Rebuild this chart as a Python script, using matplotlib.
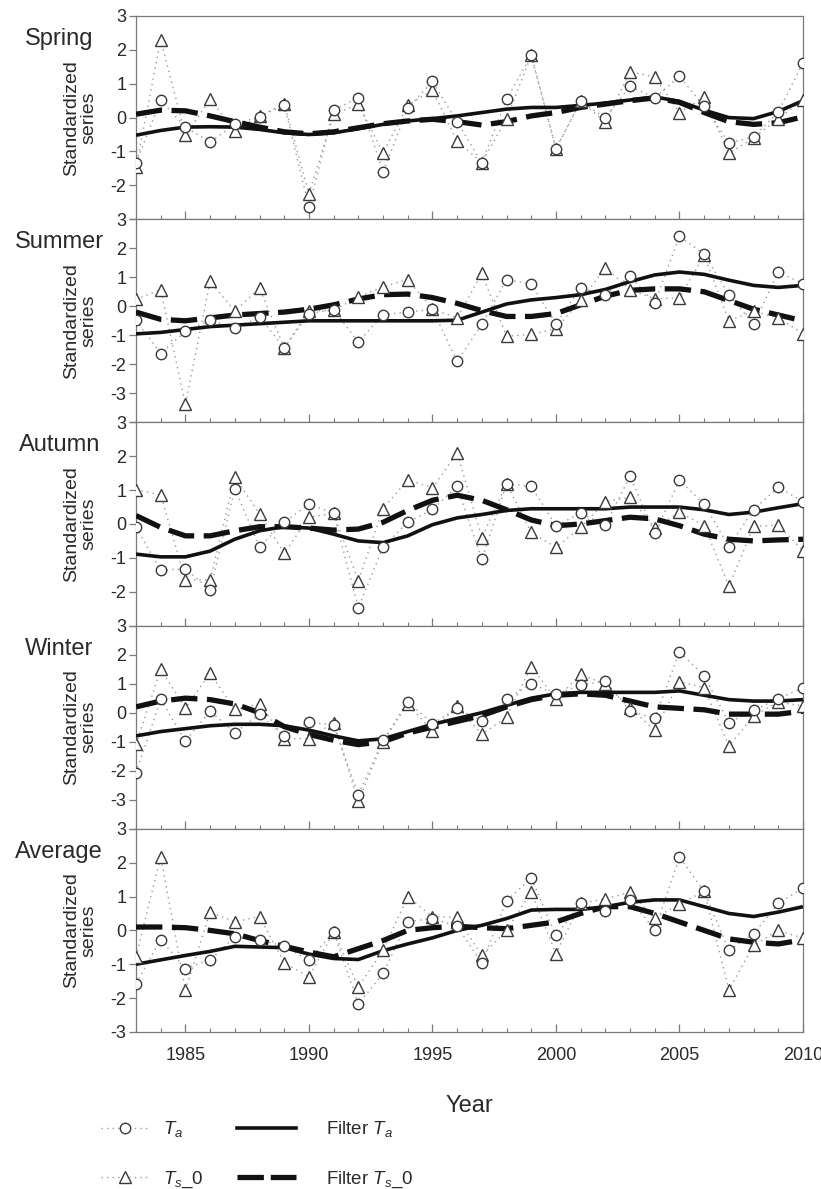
import matplotlib
matplotlib.use('Agg')
import matplotlib.pyplot as plt
from matplotlib.lines import Line2D
from matplotlib.ticker import MultipleLocator, FixedLocator, FixedFormatter
import numpy as np

plt.rcParams['font.family'] = ['Liberation Sans', 'DejaVu Sans']
plt.rcParams['mathtext.fontset'] = 'custom'
plt.rcParams['mathtext.rm'] = 'Liberation Sans'
plt.rcParams['mathtext.it'] = 'Liberation Sans:italic'

years = np.arange(1983, 2011)

seasons = ['Spring', 'Summer', 'Autumn', 'Winter', 'Average']
ylims = [(-3, 3), (-4, 3), (-3, 3), (-4, 3), (-3, 3)]

spring_ta = [-1.34, 0.51, -0.28, -0.72, -0.20, 0.03, 0.38, -2.64, 0.22, 0.59, -1.60, 0.27, 1.07, -0.13,
             -1.33, 0.54, 1.84, -0.92, 0.48, -0.01, 0.93, 0.58, 1.22, 0.33, -0.75, -0.57, 0.17, 1.62]
spring_ts = [-1.46, 2.29, -0.52, 0.54, -0.39, 0.04, 0.41, -2.25, 0.10, 0.39, -1.04, 0.36, 0.81, -0.70,
             -1.33, -0.03, 1.84, -0.92, 0.48, -0.13, 1.35, 1.20, 0.15, 0.61, -1.06, -0.60, -0.03, 0.51]
spring_fta = [-0.52, -0.38, -0.28, -0.27, -0.28, -0.35, -0.45, -0.50, -0.45, -0.33, -0.20, -0.10, -0.03, 0.05,
              0.15, 0.25, 0.30, 0.30, 0.36, 0.43, 0.52, 0.61, 0.48, 0.22, 0.00, -0.03, 0.18, 0.50]
spring_fts = [0.10, 0.22, 0.20, 0.05, -0.12, -0.28, -0.42, -0.48, -0.42, -0.30, -0.18, -0.10, -0.05, -0.12,
              -0.22, -0.12, 0.05, 0.15, 0.30, 0.40, 0.50, 0.58, 0.45, 0.15, -0.12, -0.20, -0.15, 0.02]

summer_ta = [-0.48, -1.63, -0.86, -0.48, -0.75, -0.37, -1.43, -0.25, -0.12, -1.23, -0.29, -0.20, -0.10, -1.90,
             -0.62, 0.92, 0.76, -0.60, 0.64, 0.40, 1.03, 0.12, 2.41, 1.80, 0.40, -0.62, 1.18, 0.78]
summer_ts = [0.24, 0.57, -3.38, 0.86, -0.17, 0.63, -1.43, -0.16, -0.14, 0.32, 0.67, 0.92, -0.10, -0.40,
             1.13, -1.03, -0.97, -0.77, 0.20, 1.33, 0.57, 0.26, 0.29, 1.75, -0.50, -0.17, -0.40, -0.94]
summer_fta = [-0.95, -0.90, -0.80, -0.70, -0.65, -0.60, -0.55, -0.50, -0.50, -0.50, -0.50, -0.50, -0.50, -0.48,
              -0.20, 0.08, 0.22, 0.30, 0.40, 0.58, 0.85, 1.08, 1.18, 1.10, 0.90, 0.72, 0.65, 0.72]
summer_fts = [-0.20, -0.45, -0.50, -0.40, -0.30, -0.25, -0.20, -0.10, 0.05, 0.25, 0.40, 0.42, 0.30, 0.10,
              -0.15, -0.35, -0.35, -0.25, 0.05, 0.35, 0.55, 0.60, 0.60, 0.50, 0.20, -0.10, -0.30, -0.50]

autumn_ta = [-0.10, -1.37, -1.32, -1.95, 1.04, -0.67, 0.05, 0.59, 0.32, -2.48, -0.67, 0.05, 0.43, 1.11,
             -1.04, 1.19, 1.11, -0.05, 0.32, -0.03, 1.41, -0.28, 1.29, 0.59, -0.67, 0.42, 1.09, 0.66]
autumn_ts = [1.01, 0.86, -1.65, -1.65, 1.39, 0.30, -0.87, 0.20, 0.32, -1.68, 0.45, 1.31, 1.06, 2.10,
             -0.40, 1.19, -0.25, -0.69, -0.10, 0.66, 0.79, -0.12, 0.35, -0.05, -1.83, -0.07, -0.03, -0.79]
autumn_fta = [-0.89, -0.97, -0.97, -0.80, -0.45, -0.20, -0.08, -0.12, -0.30, -0.50, -0.55, -0.35, -0.02, 0.18,
              0.28, 0.40, 0.45, 0.45, 0.45, 0.45, 0.50, 0.50, 0.50, 0.42, 0.28, 0.35, 0.48, 0.60]
autumn_fts = [0.25, -0.10, -0.35, -0.35, -0.20, -0.08, -0.08, -0.12, -0.18, -0.15, 0.05, 0.40, 0.70, 0.85,
              0.70, 0.42, 0.12, -0.05, 0.00, 0.10, 0.20, 0.15, -0.05, -0.30, -0.45, -0.50, -0.47, -0.45]

winter_ta = [-2.07, 0.46, -0.98, 0.06, -0.69, -0.06, -0.80, -0.32, -0.43, -2.82, -0.95, 0.38, -0.38, 0.15,
             -0.29, 0.46, 1.00, 0.63, 0.95, 1.09, 0.06, -0.20, 2.10, 1.26, -0.34, 0.08, 0.48, 0.86]
winter_ts = [-1.09, 1.49, 0.17, 1.36, 0.11, 0.31, -0.90, -0.89, -0.34, -3.05, -1.00, 0.30, -0.63, 0.23,
             -0.75, -0.15, 1.59, 0.46, 1.32, 0.98, 0.17, -0.61, 1.07, 0.86, -1.15, -0.11, 0.37, 0.23]
winter_fta = [-0.80, -0.65, -0.55, -0.45, -0.40, -0.40, -0.45, -0.60, -0.80, -0.97, -0.90, -0.65, -0.40, -0.20,
              0.00, 0.25, 0.50, 0.65, 0.70, 0.70, 0.70, 0.70, 0.75, 0.60, 0.45, 0.40, 0.40, 0.45]
winter_fts = [0.20, 0.40, 0.50, 0.45, 0.30, 0.00, -0.48, -0.75, -0.95, -1.10, -1.00, -0.70, -0.50, -0.30,
              -0.10, 0.20, 0.45, 0.60, 0.65, 0.60, 0.40, 0.20, 0.15, 0.10, -0.05, -0.05, -0.05, 0.05]

average_ta = [-1.57, -0.27, -1.13, -0.86, -0.20, -0.27, -0.47, -0.88, -0.05, -2.18, -1.27, 0.26, 0.35, 0.12,
              -0.96, 0.88, 1.54, -0.15, 0.80, 0.56, 0.90, 0.02, 2.16, 1.15, -0.59, -0.10, 0.80, 1.25]
average_ts = [-0.78, 2.18, -1.76, 0.54, 0.25, 0.41, -0.96, -1.37, -0.05, -1.67, -0.59, 1.00, 0.40, 0.39,
              -0.74, 0.00, 1.13, -0.69, 0.80, 0.93, 1.13, 0.36, 0.78, 1.15, -1.76, -0.44, 0.00, -0.23]
average_fta = [-1.00, -0.87, -0.74, -0.62, -0.47, -0.49, -0.51, -0.70, -0.83, -0.86, -0.60, -0.40, -0.22, 0.00,
               0.15, 0.35, 0.60, 0.62, 0.62, 0.70, 0.83, 0.90, 0.90, 0.70, 0.50, 0.41, 0.54, 0.70]
average_fts = [0.10, 0.10, 0.08, 0.00, -0.10, -0.30, -0.47, -0.64, -0.78, -0.54, -0.30, 0.00, 0.08, 0.12,
               0.08, 0.05, 0.15, 0.25, 0.50, 0.70, 0.70, 0.50, 0.25, 0.00, -0.25, -0.35, -0.40, -0.28]

series_ta = [spring_ta, summer_ta, autumn_ta, winter_ta, average_ta]
series_ts = [spring_ts, summer_ts, autumn_ts, winter_ts, average_ts]
series_fta = [spring_fta, summer_fta, autumn_fta, winter_fta, average_fta]
series_fts = [spring_fts, summer_fts, autumn_fts, winter_fts, average_fts]

W, H = 821, 1189
fig = plt.figure(figsize=(W / 100, H / 100), dpi=100)
fig.subplots_adjust(left=136 / W, right=803 / W, top=1 - 16 / H, bottom=1 - 1032 / H, hspace=0)
axes = fig.subplots(5, 1, sharex=True)

spine_c = '#7a7a7a'
text_c = '#2a2a2a'
dot_c = '#9a9a9a'
mk_c = '#3a3a3a'

for i, ax in enumerate(axes):
    ax.plot(years, series_ta[i], linestyle=(0, (1, 3)), color=dot_c, lw=1.0, zorder=2)
    ax.plot(years, series_ts[i], linestyle=(0, (1, 3)), color=dot_c, lw=1.0, zorder=2)
    ax.plot(years, series_fta[i], '-', color='#111111', lw=2.6, zorder=3, solid_capstyle='butt')
    ax.plot(years, series_fts[i], color='#111111', lw=3.8, zorder=3,
            dashes=(5.0, 1.8), dash_capstyle='butt')
    ax.plot(years, series_ta[i], 'o', ms=7.5, mfc='white', mec=mk_c, mew=1.0, zorder=5, linestyle='none')
    ax.plot(years, series_ts[i], '^', ms=8, mfc='white', mec=mk_c, mew=1.0, zorder=4, linestyle='none')

    lo, hi = ylims[i]
    ax.set_ylim(lo, hi)
    ax.set_xlim(1983, 2010)
    ticks = list(range(lo, hi + 1))
    labels = [str(t) for t in ticks]
    if i < 4:
        labels[0] = ''
    ax.yaxis.set_major_locator(FixedLocator(ticks))
    ax.yaxis.set_major_formatter(FixedFormatter(labels))
    ax.xaxis.set_major_locator(MultipleLocator(5))
    ax.xaxis.set_minor_locator(MultipleLocator(1))
    ax.tick_params(axis='y', direction='out', length=5, width=0.9, color=spine_c,
                   labelsize=13, labelcolor=text_c, pad=2)
    ax.tick_params(axis='x', which='major', direction='in', length=6, width=0.9, color=spine_c,
                   labelsize=13, labelcolor=text_c, pad=11, top=False)
    ax.tick_params(axis='x', which='minor', direction='in', length=3, width=0.8, color=spine_c, top=False)
    for sp in ax.spines.values():
        sp.set_color(spine_c)
        sp.set_linewidth(0.9)
    ax.set_ylabel('Standardized\nseries', fontsize=14, color=text_c, linespacing=1.0)
    ax.yaxis.set_label_coords(-0.058, 0.5)
    ax.text(-0.115, 0.887, seasons[i], transform=ax.transAxes, ha='center', va='center',
            fontsize=17, color=text_c)

axes[-1].set_xlabel('Year', fontsize=17, color=text_c)
axes[-1].xaxis.set_label_coords(0.5, -0.31)

h_ta = Line2D([], [], linestyle=(0, (1, 3)), color=dot_c, lw=1.0, marker='o', ms=7.5,
              mfc='white', mec=mk_c, mew=1.0)
h_ts = Line2D([], [], linestyle=(0, (1, 3)), color=dot_c, lw=1.0, marker='^', ms=8,
              mfc='white', mec=mk_c, mew=1.0)
h_fta = Line2D([], [], linestyle='-', color='#111111', lw=2.6)
h_fts = Line2D([], [], color='#111111', lw=3.8, dashes=(5.0, 1.3), dash_capstyle='butt')

leg1 = fig.legend([h_ta, h_ts], [r'$T_a$', r'$T_s$_0'], loc='upper left',
                  bbox_to_anchor=(92 / W, 1 - 1110 / H), frameon=False, fontsize=13.5,
                  handlelength=2.5, handletextpad=0.8, labelspacing=1.6, numpoints=1,
                  labelcolor=text_c, borderpad=0)
leg2 = fig.legend([h_fta, h_fts], [r'Filter $T_a$', r'Filter $T_s$_0'], loc='upper left',
                  bbox_to_anchor=(228 / W, 1 - 1110 / H), frameon=False, fontsize=13.5,
                  handlelength=3.1, handletextpad=1.6, labelspacing=1.6,
                  labelcolor=text_c, borderpad=0)

fig.savefig('out.png', dpi=100)
